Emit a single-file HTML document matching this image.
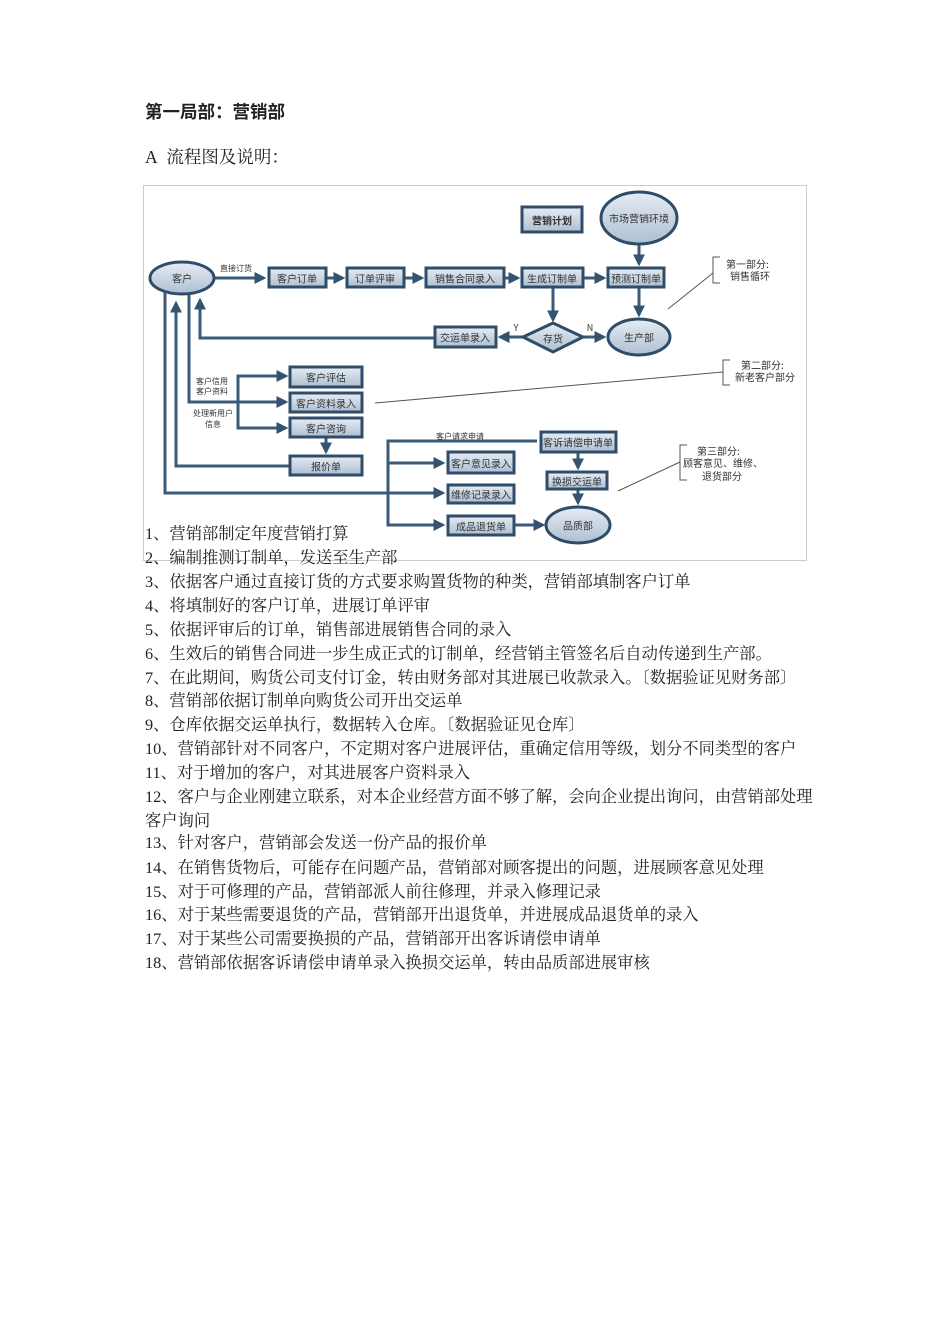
<!DOCTYPE html>
<html><head><meta charset="utf-8"><style>
body{margin:0;background:#fff;}
#p{position:relative;width:950px;height:1344px;overflow:hidden;font-family:"Liberation Serif","Noto Serif CJK SC",serif;color:#222;}
.t{position:absolute;left:145px;font-size:16.3px;line-height:20px;white-space:nowrap;}
.h{position:absolute;left:145px;font-size:17.5px;white-space:nowrap;}
svg{position:absolute;left:0;top:0;}
svg text{font-family:"Noto Sans CJK SC","WenQuanYi Zen Hei",sans-serif;fill:#333;}
</style></head><body><div id="p">
<div class="h" style="top:99px;font-weight:bold;font-family:'Noto Sans CJK SC',sans-serif;">第一局部：营销部</div>
<div class="h" style="top:144px;">A&nbsp; 流程图及说明：</div>
<svg width="950" height="1344" viewBox="0 0 950 1344">
<defs>
<linearGradient id="g" x1="0" y1="0" x2="0" y2="1"><stop offset="0" stop-color="#e6ecf3"/><stop offset="1" stop-color="#aebfd2"/></linearGradient>
<marker id="a" markerWidth="4" markerHeight="4" refX="3.2" refY="2" orient="auto" markerUnits="strokeWidth"><path d="M0,0 L4,2 L0,4 z" fill="#33536f"/></marker>
</defs>
<rect x="143.5" y="185.5" width="663" height="375" fill="none" stroke="#ccc"/>
<g stroke="#3a5a77" stroke-width="3" fill="none">
<line x1="214" y1="278" x2="264" y2="278" marker-end="url(#a)"/>
<line x1="326" y1="278" x2="343" y2="278" marker-end="url(#a)"/>
<line x1="404" y1="278" x2="422" y2="278" marker-end="url(#a)"/>
<line x1="504" y1="278" x2="518" y2="278" marker-end="url(#a)"/>
<line x1="583" y1="278" x2="604" y2="278" marker-end="url(#a)"/>
<line x1="639" y1="244" x2="639" y2="264" marker-end="url(#a)"/>
<line x1="553" y1="287" x2="553" y2="320" marker-end="url(#a)"/>
<line x1="639" y1="287" x2="639" y2="315" marker-end="url(#a)"/>
<line x1="583" y1="337" x2="604" y2="337" marker-end="url(#a)"/>
<line x1="523" y1="337" x2="500" y2="337" marker-end="url(#a)"/>
<polyline points="435,338 200,338 200,300" marker-end="url(#a)"/>
<polyline points="165,290 165,493 443,493" marker-end="url(#a)"/>
<polyline points="189,292 189,402 286,402" marker-end="url(#a)"/>
<polyline points="290,466 176,466 176,303" marker-end="url(#a)"/>
<polyline points="286,376 238,376 238,428 286,428" marker-end="url(#a)"/>
<line x1="238" y1="376" x2="286" y2="376" marker-end="url(#a)"/>
<line x1="326" y1="437" x2="326" y2="452" marker-end="url(#a)"/>
<polyline points="537,441 388,441 388,525 443,525" marker-end="url(#a)"/>
<line x1="388" y1="463" x2="443" y2="463" marker-end="url(#a)"/>
<line x1="515" y1="525" x2="543" y2="525" marker-end="url(#a)"/>
<line x1="578" y1="452" x2="578" y2="468" marker-end="url(#a)"/>
<line x1="578" y1="489" x2="578" y2="503" marker-end="url(#a)"/>
</g>
<g stroke="#2f4d68" stroke-width="3" fill="url(#g)">
<ellipse cx="182" cy="278" rx="32" ry="16"/>
<rect x="269" y="268" width="57" height="19"/>
<rect x="347" y="268" width="57" height="19"/>
<rect x="426" y="268" width="78" height="19"/>
<rect x="522" y="268" width="61" height="19"/>
<rect x="608" y="268" width="56" height="19"/>
<rect x="522" y="207" width="60" height="25"/>
<ellipse cx="639" cy="218" rx="38" ry="26"/>
<polygon points="523,337 553,323 583,337 553,352"/>
<ellipse cx="639" cy="337" rx="31" ry="18"/>
<rect x="435" y="327" width="61" height="20"/>
<rect x="290" y="367" width="72" height="20"/>
<rect x="290" y="393" width="72" height="19"/>
<rect x="290" y="418" width="72" height="19"/>
<rect x="290" y="456" width="72" height="19"/>
<rect x="448" y="452" width="66" height="21"/>
<rect x="448" y="485" width="66" height="18"/>
<rect x="448" y="516" width="66" height="19"/>
<rect x="541" y="432" width="75" height="20"/>
<rect x="547" y="472" width="60" height="17"/>
<ellipse cx="578" cy="525" rx="32" ry="18"/>
</g>
<g font-size="10" text-anchor="middle" dominant-baseline="central">
<text x="182" y="278">客户</text>
<text x="297" y="278">客户订单</text>
<text x="375" y="278">订单评审</text>
<text x="465" y="278">销售合同录入</text>
<text x="552" y="278">生成订制单</text>
<text x="636" y="278">预测订制单</text>
<text x="552" y="220" font-weight="bold">营销计划</text>
<text x="639" y="218">市场营销环境</text>
<text x="553" y="338">存货</text>
<text x="639" y="337">生产部</text>
<text x="465" y="337">交运单录入</text>
<text x="326" y="377">客户评估</text>
<text x="326" y="403">客户资料录入</text>
<text x="326" y="428">客户咨询</text>
<text x="326" y="466">报价单</text>
<text x="481" y="463">客户意见录入</text>
<text x="481" y="494">维修记录录入</text>
<text x="481" y="526">成品退货单</text>
<text x="578" y="442">客诉请偿申请单</text>
<text x="577" y="481">换损交运单</text>
<text x="578" y="525">品质部</text>
</g>
<g font-size="8" text-anchor="middle">
<text x="236" y="271">直接订货</text>
<text x="212" y="384">客户信用</text>
<text x="212" y="394">客户资料</text>
<text x="213" y="416">处理新用户</text>
<text x="213" y="427">信息</text>
<text x="460" y="439">客户请求申请</text>
<text x="516" y="331" font-size="9">Y</text>
<text x="590" y="331" font-size="9">N</text>
</g>
<g stroke="#555" stroke-width="1" fill="none">
<line x1="668" y1="309" x2="713" y2="273"/>
<polyline points="720,257 713,257 713,283 720,283"/>
<line x1="375" y1="403" x2="723" y2="372"/>
<polyline points="730,360 723,360 723,385 730,385"/>
<line x1="618" y1="491" x2="680" y2="462"/>
<polyline points="687,445 680,445 680,480 687,480"/>
</g>
<g font-size="10">
<text x="726" y="268">第一部分:</text>
<text x="730" y="280">销售循环</text>
<text x="741" y="369">第二部分:</text>
<text x="735" y="381">新老客户部分</text>
<text x="697" y="455">第三部分:</text>
<text x="683" y="467">顾客意见、维修、</text>
<text x="702" y="480">退货部分</text>
</g>
</svg>
<div class="t" style="top:524px">1、营销部制定年度营销打算</div>
<div class="t" style="top:548px">2、编制推测订制单，发送至生产部</div>
<div class="t" style="top:572px">3、依据客户通过直接订货的方式要求购置货物的种类，营销部填制客户订单</div>
<div class="t" style="top:596px">4、将填制好的客户订单，进展订单评审</div>
<div class="t" style="top:620px">5、依据评审后的订单，销售部进展销售合同的录入</div>
<div class="t" style="top:644px">6、生效后的销售合同进一步生成正式的订制单，经营销主管签名后自动传递到生产部。</div>
<div class="t" style="top:668px">7、在此期间，购货公司支付订金，转由财务部对其进展已收款录入。〔数据验证见财务部〕</div>
<div class="t" style="top:691px">8、营销部依据订制单向购货公司开出交运单</div>
<div class="t" style="top:715px">9、仓库依据交运单执行，数据转入仓库。〔数据验证见仓库〕</div>
<div class="t" style="top:739px">10、营销部针对不同客户，不定期对客户进展评估，重确定信用等级，划分不同类型的客户</div>
<div class="t" style="top:763px">11、对于增加的客户，对其进展客户资料录入</div>
<div class="t" style="top:787px">12、客户与企业刚建立联系，对本企业经营方面不够了解，会向企业提出询问，由营销部处理</div>
<div class="t" style="top:811px">客户询问</div>
<div class="t" style="top:833px">13、针对客户，营销部会发送一份产品的报价单</div>
<div class="t" style="top:858px">14、在销售货物后，可能存在问题产品，营销部对顾客提出的问题，进展顾客意见处理</div>
<div class="t" style="top:882px">15、对于可修理的产品，营销部派人前往修理，并录入修理记录</div>
<div class="t" style="top:905px">16、对于某些需要退货的产品，营销部开出退货单，并进展成品退货单的录入</div>
<div class="t" style="top:929px">17、对于某些公司需要换损的产品，营销部开出客诉请偿申请单</div>
<div class="t" style="top:953px">18、营销部依据客诉请偿申请单录入换损交运单，转由品质部进展审核</div>
</div></body></html>
